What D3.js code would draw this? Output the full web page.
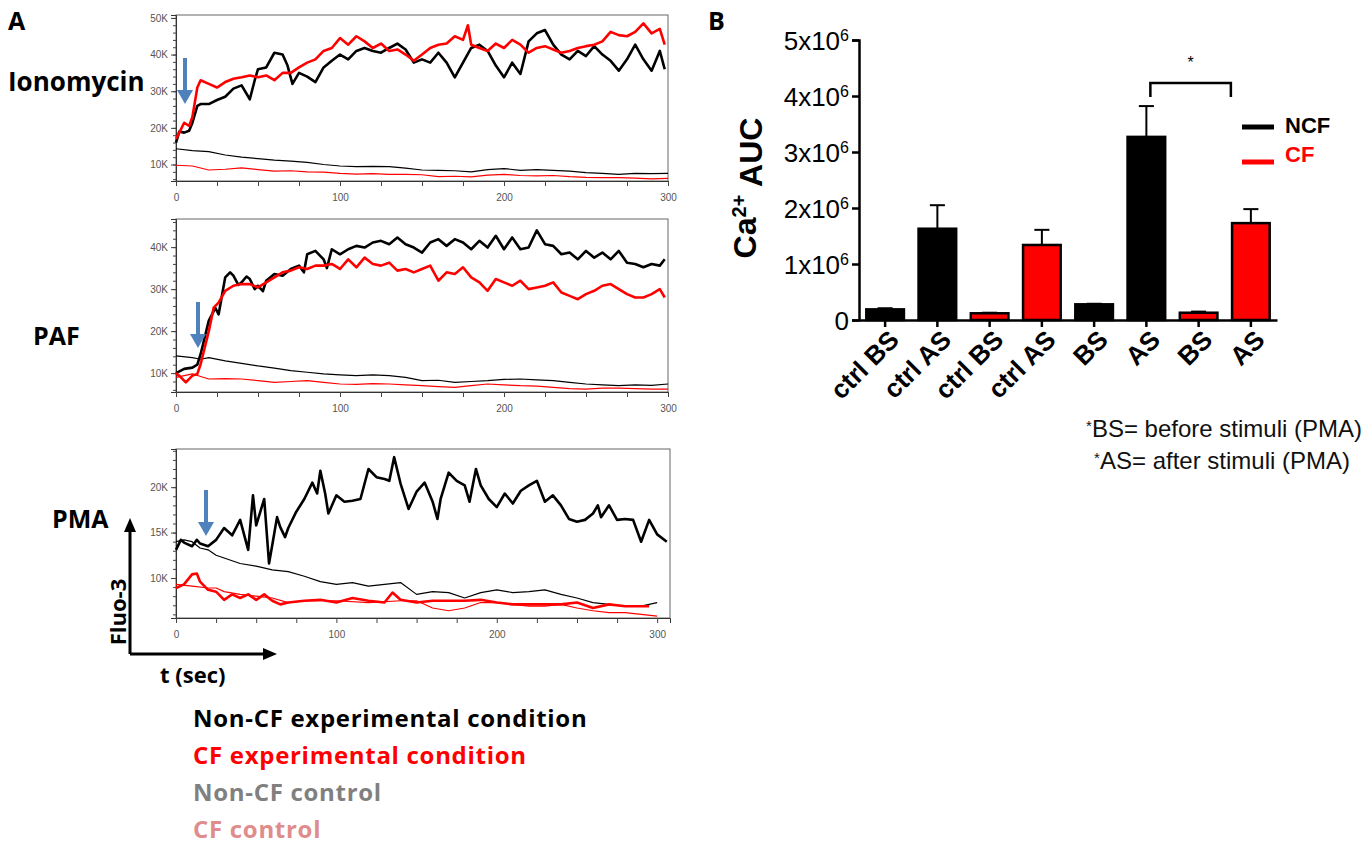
<!DOCTYPE html>
<html>
<head>
<meta charset="utf-8">
<script src="https://cdn.jsdelivr.net/npm/d3@7"></script>
<style>
  body { margin: 0; background: #fff; }
  svg { display: block; }
</style>
</head>
<body>
<svg id="fig" width="1366" height="846"></svg>
<script>
// ---- panel A traces: [time (s), Fluo-3 intensity (K)] ----
const ionNcf = [[0,16],[2,19],[5,18.7],[8,19.2],[10,21.4],[13,26],[15,26.5],[20,26.5],[25,27.6],[30,28.5],[35,30.7],[40,31.6],[45,27.8],[48,33],[50,36],[55,36.5],[60,40.5],[65,40],[68,37],[71,32],[75,35],[80,34],[85,32.5],[90,36.5],[95,38.3],[100,40],[105,38.7],[110,41],[115,41.8],[120,41],[125,40.5],[130,41.8],[135,43],[140,41.4],[145,37.8],[150,38.7],[155,37.8],[160,40.5],[165,37.8],[170,33.8],[175,37.8],[180,41.8],[185,42.7],[190,41],[195,37],[200,33.8],[205,37.8],[210,34.7],[215,43.6],[220,45.8],[225,46.7],[230,42.7],[235,40],[240,38.7],[245,41],[250,39.6],[255,42.3],[260,40],[265,38.3],[270,35.6],[275,38.7],[280,42.7],[285,38.7],[290,35.6],[295,41],[298,36]];
const ionCf = [[0,17],[2,18.7],[5,21.4],[8,20.5],[10,23],[13,31],[15,33],[20,32],[25,31],[30,32.5],[35,33.4],[40,33.8],[45,34.3],[50,33.8],[55,34.3],[60,33],[65,35],[70,35],[75,36.5],[80,37.8],[85,38.7],[90,41],[95,41.8],[100,44.5],[105,42.7],[110,45],[115,43.6],[120,41.8],[125,43],[130,41],[135,41.4],[140,40],[145,38.3],[150,40],[155,41.8],[160,42.7],[165,43],[170,45],[175,44],[178,48],[180,42.7],[185,41.8],[190,41],[195,43],[200,41.8],[205,44],[210,42.7],[215,40.5],[220,41.8],[225,42.3],[230,41.4],[235,40.5],[240,41],[245,41.8],[250,42.3],[255,42.7],[260,43.6],[265,46.2],[270,45.3],[275,45],[280,46.2],[285,48.5],[290,45.8],[295,47],[298,42.7]];
const ionNcfCtrl = [[0,14.3],[10,13.8],[20,13.5],[30,12.6],[40,12],[50,11.6],[60,11.2],[70,10.9],[80,10.6],[90,10],[100,9.6],[110,9.4],[120,9.5],[130,9.4],[140,9],[150,8.5],[160,8.4],[170,8.3],[180,8],[190,8.6],[200,8.9],[210,8.4],[220,8.6],[230,8.4],[240,8.2],[250,7.8],[260,7.6],[270,7.3],[280,7.6],[290,7.5],[300,7.6]];
const ionCfCtrl = [[0,9.8],[10,9.6],[20,8.5],[30,8.7],[40,9.1],[50,8.6],[60,8.2],[70,8.3],[80,8],[90,7.9],[100,7.6],[110,7.4],[120,7.5],[130,7.3],[140,7.3],[150,7.2],[160,6.7],[170,6.8],[180,6.6],[190,7.1],[200,7.3],[210,7],[220,6.9],[230,7],[240,6.7],[250,6.5],[260,6.4],[270,6.4],[280,6.3],[290,6.1],[300,6.2]];

const pafNcf = [[0,10],[5,11],[10,11.3],[13,12],[15,14.5],[20,22.5],[24,25.5],[26,24],[28,28.4],[30,32.8],[33,34],[35,33.2],[38,31],[40,31.6],[43,33],[45,32.4],[48,30],[50,30.8],[53,29.5],[55,32],[60,33.6],[65,33.2],[70,34.8],[75,35.6],[78,34],[80,38.3],[85,39.1],[90,37.1],[92,35],[95,39.5],[100,38.3],[105,39.5],[110,40.3],[115,39.9],[120,41.1],[125,41.5],[130,40.7],[135,42.3],[140,40.7],[145,39.9],[150,38.7],[155,41.1],[160,41.9],[165,40.3],[170,41.9],[175,41.1],[180,39.5],[185,41.5],[190,39.9],[195,42.7],[200,39.5],[205,42.3],[210,39.5],[215,39.9],[220,44],[225,40.7],[230,40.3],[235,38.3],[240,38.7],[245,37.1],[250,39.1],[255,37.5],[260,38.7],[265,37.1],[270,39.1],[275,36.3],[280,36],[285,35.2],[290,36],[295,35.6],[298,37.1]];
const pafCf = [[0,10],[3,9],[6,7.8],[10,9.4],[13,9.8],[15,12.1],[20,20],[23,25.6],[26,26.8],[30,29.6],[35,30.8],[40,31.2],[45,31.2],[50,30.4],[55,31.6],[60,32.8],[65,34],[70,34.4],[75,35.2],[80,34.8],[85,35.6],[90,35.6],[95,36],[100,34.8],[105,37.1],[110,35.2],[115,37.5],[120,36],[125,35.6],[130,36.3],[135,34.4],[140,34.8],[145,34],[150,34.8],[155,35.6],[160,32],[165,34],[170,33.6],[175,35.2],[180,32.8],[185,31.6],[190,29.6],[195,32.4],[200,31.6],[205,30.8],[210,32],[215,30],[220,30.4],[225,30.8],[230,31.6],[235,29.2],[240,28.4],[245,27.6],[250,28.8],[255,29.6],[260,30.8],[265,31.2],[270,30],[275,28.8],[280,28],[285,28],[290,28.8],[295,30],[298,28]];
const pafNcfCtrl = [[0,14.1],[10,13.7],[15,13.3],[20,13.7],[30,12.9],[40,12.3],[50,11.7],[60,11.2],[70,10.6],[80,10.2],[90,9.8],[100,9.6],[110,9.4],[120,9.6],[130,9.4],[140,9],[150,8.2],[160,8.3],[170,7.8],[180,8],[190,8.2],[200,8.5],[210,8.6],[220,8.4],[230,8.2],[240,7.8],[250,7.4],[260,7.2],[270,7],[280,7.2],[290,7.1],[300,7.4]];
const pafCfCtrl = [[0,9],[10,9.8],[15,9.2],[20,8.6],[30,8.7],[40,8.6],[50,8.2],[60,7.8],[70,8],[80,8.2],[90,7.8],[100,7.4],[110,7.3],[120,7.5],[130,7.4],[140,7.2],[150,7],[160,6.8],[170,6.6],[180,7],[190,7.4],[200,7.2],[210,7],[220,6.9],[230,6.6],[240,6.3],[250,6.2],[260,6.4],[270,6.4],[280,6.3],[290,6.2],[300,6.2]];

const pmaNcf = [[0,13.1],[3,14.2],[5,13.9],[10,13.5],[13,14.2],[15,13.8],[20,13.5],[25,14.2],[30,15.5],[35,14.7],[40,16.4],[45,13.1],[48,19.1],[50,15.8],[55,18.7],[58,11.6],[60,13.6],[63,16.7],[65,15.6],[68,14.5],[70,15.5],[75,17.3],[80,18.7],[85,20.5],[88,19.3],[90,21.8],[93,19.3],[95,17.1],[100,19.1],[105,18.4],[110,18.5],[115,18.7],[120,22],[125,21.1],[130,20.9],[133,20.7],[136,23.3],[140,20.4],[145,17.6],[150,19.5],[155,20.5],[160,18.4],[163,16.5],[165,18.7],[170,21.6],[175,20.7],[180,20.2],[183,18.4],[187,22],[190,20.2],[195,18.7],[200,17.8],[205,19.3],[210,18.2],[215,19.6],[220,20.2],[225,20.7],[230,18.4],[235,19.1],[240,18],[245,16.5],[250,16.2],[255,16.4],[260,17.1],[263,18],[265,16.7],[270,18],[275,16.4],[280,16.5],[285,16.4],[290,14],[295,16.4],[300,14.8],[306,14]];
const pmaCf = [[0,8.9],[5,9.3],[10,10.4],[13,10.5],[15,9.6],[20,8.7],[25,8.5],[30,7.6],[35,8.2],[40,7.8],[45,8.2],[50,7.6],[55,8.2],[60,7.5],[65,7.1],[70,7.3],[80,7.5],[90,7.6],[100,7.3],[110,7.8],[120,7.5],[130,7.3],[135,8.4],[140,7.6],[150,7.3],[160,7.5],[170,7.5],[180,7.5],[190,7.6],[200,7.3],[210,7.1],[220,7.1],[230,7.1],[240,7.1],[250,7.3],[260,6.7],[270,7.1],[280,6.9],[290,6.9],[295,6.9]];
const pmaNcfCtrl = [[0,14],[5,14.2],[10,14],[15,13.3],[20,13.1],[25,12.5],[30,12.2],[40,11.6],[50,11.3],[60,10.9],[70,10.7],[80,10.2],[90,9.6],[100,9.3],[110,9.5],[120,9.1],[130,9.3],[140,9.5],[150,8.2],[160,8.5],[170,8.4],[180,7.8],[190,8.4],[200,8.7],[210,8.4],[220,8.5],[230,8.7],[240,8.2],[250,7.8],[260,7.3],[270,7.1],[280,6.9],[290,6.9],[300,7.3]];
const pmaCfCtrl = [[0,9.3],[10,9.1],[20,8.9],[25,8.9],[30,8.5],[40,8.2],[50,8],[60,7.8],[70,7.3],[80,7.5],[100,7.5],[120,7.3],[140,7.5],[150,7.5],[160,6.7],[170,6.4],[180,6.7],[190,7.3],[200,7.3],[210,7.1],[220,6.9],[230,6.9],[240,7.1],[250,6.7],[260,6.4],[270,6.2],[280,6.2],[290,6],[300,5.8]];

// ---- panel B: Ca2+ AUC bars ----
const groupLabels = ["ctrl BS", "ctrl AS", "ctrl BS", "ctrl AS", "BS", "AS", "BS", "AS"];
const groupCohort = ["NCF", "NCF", "CF", "CF", "NCF", "NCF", "CF", "CF"];
const aucMean = [0.19e6, 1.63e6, 0.12e6, 1.34e6, 0.28e6, 3.27e6, 0.13e6, 1.73e6];
const aucSem  = [0.02e6, 0.42e6, 0.01e6, 0.27e6, 0.01e6, 0.55e6, 0.02e6, 0.25e6];
const aucTicks = [0, 1, 2, 3, 4, 5];

const legendA = [
  {text: "Non-CF experimental condition", color: "#000000"},
  {text: "CF experimental condition", color: "#ff0000"},
  {text: "Non-CF control", color: "#808080"},
  {text: "CF control", color: "#e08c8c"}
];

const svg = d3.select('#fig');
const boldFont = "'Open Sans', sans-serif";
const arial = "'Liberation Sans', Arial, sans-serif";

function tracePanel(cfg) {
  const x = d3.scaleLinear().domain([0, cfg.xMax]).range([cfg.left, cfg.right]);
  const y = d3.scaleLinear().domain([cfg.yMin, cfg.yMax]).range([cfg.bottom, cfg.top]);
  const g = svg.append("g");

  // frame
  g.append("rect")
    .attr("x", cfg.left).attr("y", cfg.top)
    .attr("width", cfg.right - cfg.left).attr("height", cfg.bottom - cfg.top)
    .attr("fill", "none").attr("stroke", "#666").attr("stroke-width", 1);

  // minor ticks first, then labelled ones
  const minor = d3.range(Math.ceil(cfg.yMin / cfg.yMinor) * cfg.yMinor, cfg.yMax, cfg.yMinor);
  g.append("g").attr("transform", `translate(${cfg.left},0)`)
    .call(d3.axisLeft(y).tickValues(minor).tickSize(3).tickFormat(""))
    .call(a => a.select(".domain").remove());
  const ya = g.append("g").attr("transform", `translate(${cfg.left},0)`)
    .call(d3.axisLeft(y).tickValues(cfg.yMajor).tickSize(5).tickFormat(d => d + "K"));
  ya.select(".domain").attr("stroke", "#333");

  const xa = g.append("g").attr("transform", `translate(0,${cfg.bottom})`)
    .call(d3.axisBottom(x).tickValues(d3.range(0, 301, 25)).tickSize(5)
      .tickFormat(d => d % 100 === 0 ? d : ""));
  xa.select(".domain").attr("stroke", "#333");
  xa.selectAll(".tick text").attr("dy", "1.2em");

  g.selectAll(".tick line").attr("stroke", "#444");
  g.selectAll(".tick text").attr("fill", "#555").style("font-family", arial).style("font-size", "10px");

  cfg.series.forEach(s => {
    const line = d3.line().x(d => x(d[0])).y(d => y(d[1]));
    g.append("path").datum(s.data)
      .attr("d", line).attr("fill", "none")
      .attr("stroke", s.color).attr("stroke-width", s.width)
      .attr("stroke-linejoin", "round");
  });

  // blue stimulus arrow
  const ax = cfg.arrow.x, y1 = cfg.arrow.y1, y2 = cfg.arrow.y2;
  g.append("line").attr("x1", ax).attr("x2", ax).attr("y1", y1).attr("y2", y2 - 12)
    .attr("stroke", "#4f81bd").attr("stroke-width", 4);
  g.append("path").attr("d", `M${ax - 8},${y2 - 14} L${ax + 8},${y2 - 14} L${ax},${y2} Z`)
    .attr("fill", "#4f81bd");

  svg.append("text").attr("x", cfg.labelX).attr("y", cfg.labelY)
    .style("font-family", boldFont).style("font-weight", 700).style("font-size", cfg.labelSize || "25px")
    .text(cfg.label);
}

tracePanel({
  left: 176, right: 668, top: 15, bottom: 181, xMax: 300,
  yMin: 5.5, yMax: 50.8, yMajor: [10, 20, 30, 40, 50], yMinor: 2,
  series: [
    {data: ionNcfCtrl, color: "#000", width: 1.2},
    {data: ionCfCtrl, color: "#ff0000", width: 1.2},
    {data: ionNcf, color: "#000", width: 2.6},
    {data: ionCf, color: "#ff0000", width: 2.6}
  ],
  arrow: {x: 185, y1: 58, y2: 104},
  label: "Ionomycin", labelX: 8, labelY: 91, labelSize: "26px"
});
tracePanel({
  left: 176, right: 668, top: 219, bottom: 392, xMax: 300,
  yMin: 5.5, yMax: 46.7, yMajor: [10, 20, 30, 40], yMinor: 2,
  series: [
    {data: pafNcfCtrl, color: "#000", width: 1.2},
    {data: pafCfCtrl, color: "#ff0000", width: 1.2},
    {data: pafNcf, color: "#000", width: 2.6},
    {data: pafCf, color: "#ff0000", width: 2.6}
  ],
  arrow: {x: 198, y1: 302, y2: 348},
  label: "PAF", labelX: 33, labelY: 345
});
tracePanel({
  left: 176, right: 670, top: 449, bottom: 618, xMax: 308,
  yMin: 5.6, yMax: 24.2, yMajor: [10, 15, 20], yMinor: 1,
  series: [
    {data: pmaNcfCtrl, color: "#000", width: 1.2},
    {data: pmaCfCtrl, color: "#ff0000", width: 1.2},
    {data: pmaNcf, color: "#000", width: 2.6},
    {data: pmaCf, color: "#ff0000", width: 2.6}
  ],
  arrow: {x: 206, y1: 490, y2: 536},
  label: "PMA", labelX: 52, labelY: 528
});

// Fluo-3 / time schematic axes
svg.append("path").attr("d", "M130,654 L130,530 M130,654 L265,654")
  .attr("fill", "none").attr("stroke", "#000").attr("stroke-width", 3);
svg.append("path").attr("d", "M124,532 L136,532 L130,518 Z").attr("fill", "#000");
svg.append("path").attr("d", "M263,648 L263,660 L277,654 Z").attr("fill", "#000");
svg.append("text").attr("transform", "translate(126,612) rotate(-90)")
  .attr("text-anchor", "middle")
  .style("font-family", boldFont).style("font-weight", 700).style("font-size", "22px")
  .text("Fluo-3");
svg.append("text").attr("x", 160).attr("y", 683)
  .style("font-family", boldFont).style("font-weight", 700).style("font-size", "22px")
  .text("t (sec)");

svg.append("text").attr("x", 8).attr("y", 30)
  .style("font-family", boldFont).style("font-weight", 700).style("font-size", "25px").text("A");

svg.append("g").selectAll("text").data(legendA).enter().append("text")
  .attr("x", 193).attr("y", (d, i) => 727 + i * 37)
  .attr("fill", d => d.color)
  .style("font-family", boldFont).style("font-weight", 700).style("font-size", "24px")
  .style("letter-spacing", "0.7px")
  .text(d => d.text);

// ---- panel B ----
svg.append("text").attr("x", 708).attr("y", 30)
  .style("font-family", boldFont).style("font-weight", 700).style("font-size", "25px").text("B");

const bx = d3.scaleBand().domain(d3.range(groupLabels.length)).range([859, 1277]).paddingInner(0.28).paddingOuter(0.14);
const by = d3.scaleLinear().domain([0, 5e6]).range([320, 40]);
const gb = svg.append("g");
const mid = i => bx(i) + bx.bandwidth() / 2;

gb.selectAll("line.err").data(aucMean).enter().append("line")
  .attr("x1", (d, i) => mid(i)).attr("x2", (d, i) => mid(i))
  .attr("y1", d => by(d)).attr("y2", (d, i) => by(d + aucSem[i]))
  .attr("stroke", "#000").attr("stroke-width", 2);
gb.selectAll("line.cap").data(aucMean).enter().append("line")
  .attr("x1", (d, i) => bx(i) + bx.bandwidth() * 0.3).attr("x2", (d, i) => bx(i) + bx.bandwidth() * 0.7)
  .attr("y1", (d, i) => by(d + aucSem[i])).attr("y2", (d, i) => by(d + aucSem[i]))
  .attr("stroke", "#000").attr("stroke-width", 2);
gb.selectAll("rect").data(aucMean).enter().append("rect")
  .attr("x", (d, i) => bx(i)).attr("width", bx.bandwidth())
  .attr("y", d => by(d)).attr("height", d => by(0) - by(d))
  .attr("fill", (d, i) => groupCohort[i] === "NCF" ? "#000" : "#ff0000")
  .attr("stroke", "#000").attr("stroke-width", 2.5);

const yAxB = gb.append("g").attr("transform", "translate(859,0)")
  .call(d3.axisLeft(by).tickValues(aucTicks.map(d => d * 1e6)).tickSize(7).tickFormat(""));
yAxB.selectAll("line, path").attr("stroke", "#000").attr("stroke-width", 2.5);
yAxB.selectAll(".tick").each(function(d) {
  const t = d3.select(this).append("text").attr("x", -10).attr("dy", "0.35em")
    .attr("text-anchor", "end").attr("fill", "#000")
    .style("font-family", arial).style("font-size", "26px");
  const k = d / 1e6;
  if (k === 0) { t.text("0"); return; }
  t.append("tspan").text(k + "x10");
  t.append("tspan").attr("dy", "-0.55em").style("font-size", "16px").text("6");
});

const xAxB = gb.append("g").attr("transform", "translate(0,320)")
  .call(d3.axisBottom(bx).tickSize(7).tickSizeOuter(0).tickFormat(""));
xAxB.selectAll("line, path").attr("stroke", "#000").attr("stroke-width", 2.5);

// rotated category labels
gb.selectAll("text.xlab").data(groupLabels).enter().append("text")
  .attr("class", "xlab")
  .attr("transform", (d, i) => `translate(${mid(i) + 9},335) rotate(-45)`)
  .attr("text-anchor", "end").attr("dy", "0.35em")
  .attr("fill", "#000")
  .style("font-family", arial).style("font-weight", 700).style("font-size", "26px")
  .text(d => d);

const yTitle = svg.append("text").attr("transform", "translate(756,188) rotate(-90)")
  .attr("text-anchor", "middle")
  .style("font-family", arial).style("font-weight", 700).style("font-size", "32px");
yTitle.append("tspan").text("Ca");
yTitle.append("tspan").attr("dy", "-0.5em").style("font-size", "20px").text("2+");
yTitle.append("tspan").attr("dy", "0.5em").text(" AUC");

// significance bracket AS NCF vs AS CF
const bL = mid(5) + 4, bR = mid(7) - 20;
gb.append("path").attr("d", `M${bL},97 L${bL},83 L${bR},83 L${bR},97`)
  .attr("fill", "none").attr("stroke", "#000").attr("stroke-width", 2.5);
gb.append("text").attr("x", (bL + bR) / 2).attr("y", 68).attr("text-anchor", "middle")
  .style("font-family", arial).style("font-size", "16px").text("*");

// legend B
const legB = [{name: "NCF", color: "#000", y: 127}, {name: "CF", color: "#ff0000", y: 162}];
legB.forEach((l, i) => {
  gb.append("line").attr("x1", 1242).attr("x2", 1274).attr("y1", l.y).attr("y2", l.y)
    .attr("stroke", l.color).attr("stroke-width", 5);
  gb.append("text").attr("x", 1285).attr("y", i === 0 ? l.y - 2 : l.y - 8).attr("dy", "0.35em")
    .attr("fill", l.color)
    .style("font-family", arial).style("font-weight", 700).style("font-size", "22px")
    .text(l.name);
});

// footnote
const notes = ["BS= before stimuli (PMA)", "AS= after stimuli (PMA)"];
notes.forEach((n, i) => {
  const t = svg.append("text").attr("x", i === 0 ? 1362 : 1350).attr("y", 435 + i * 32)
    .attr("text-anchor", "end").attr("fill", "#111")
    .style("font-family", arial).style("font-size", "24px");
  t.append("tspan").attr("dy", "-0.25em").style("font-size", "15px").text("*");
  t.append("tspan").attr("dy", "0.25em").text(n);
});
</script>
</body>
</html>
